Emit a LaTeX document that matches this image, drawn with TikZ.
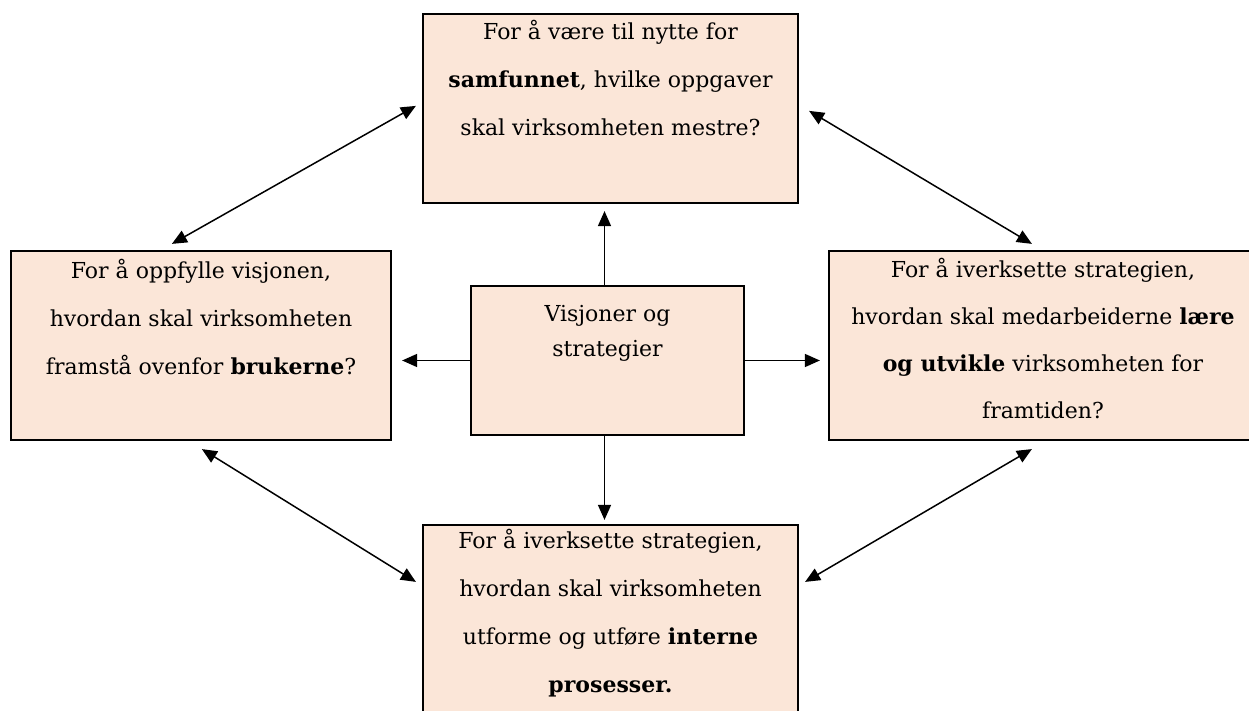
\documentclass[tikz,border=0pt]{standalone}
\usepackage{fontspec}
\setmainfont{DejaVu Serif}
\usetikzlibrary{arrows.meta,calc}
\definecolor{peach}{HTML}{FBE6D8}
\tikzset{
  card/.style={draw=black, line width=2.2pt, fill=peach, inner sep=0pt, text=black},
  link/.style={line width=1.5pt, -{Triangle[length=15pt,width=13pt]}},
  twoway/.style={line width=1.5pt, {Triangle[length=15pt,width=13pt]}-{Triangle[length=15pt,width=13pt]}},
}
% #1 width, #2 height, #3 depth of first baseline, #4 line spacing, #5 text
\newcommand{\cardtext}[5]{\parbox[c][#2][t]{#1}{\centering\fontsize{22}{#4}\selectfont\rule{0pt}{#3}#5}}
\begin{document}
\begin{tikzpicture}[x=1pt,y=1pt]
\clip (0,0) rectangle (1249,711);

% the four perspectives and the core in the middle
\node[card] (top) at (610.5,602.5)
  {\cardtext{375pt}{189pt}{26pt}{48pt}{For å være til nytte for\\\textbf{samfunnet}, hvilke oppgaver\\skal virksomheten mestre?}};
\node[card] (left) at (201,365.5)
  {\cardtext{380pt}{189pt}{28pt}{48pt}{For å oppfylle visjonen,\\hvordan skal virksomheten\\framstå ovenfor \textbf{brukerne}?}};
\node[card] (right) at (1043,365.5)
  {\cardtext{428pt}{189pt}{27pt}{47pt}{For å iverksette strategien,\\hvordan skal medarbeiderne \textbf{lære}\\\textbf{og utvikle} virksomheten for\\framtiden?}};
\node[card] (bottom) at (610.5,91.5)
  {\cardtext{375pt}{189pt}{24pt}{48pt}{For å iverksette strategien,\\hvordan skal virksomheten\\utforme og utføre \textbf{interne}\\\textbf{prosesser.}}};
\node[card] (core) at (607.5,350.5)
  {\cardtext{273pt}{149pt}{36pt}{35pt}{Visjoner og\\strategier}};

% from the core outwards
\draw[link, shorten >=7pt] ([xshift=-3pt]core.north) -- ([xshift=-3pt]core.north |- top.south);
\draw[link, shorten >=4pt] ([xshift=-3pt]core.south) -- ([xshift=-3pt]core.south |- bottom.north);
\draw[link, shorten >=10pt] (core.west) -- (left.east |- core.west);
\draw[link, shorten >=8pt] (core.east) -- (right.west |- core.east);

% links between neighbouring perspectives
\draw[twoway] ($(left.north west)+(162,6)$) -- ($(top.north west)+(-6,-93)$);
\draw[twoway] ($(top.north east)+(10,-98)$) -- ($(right.north west)+(204,6)$);
\draw[twoway] ($(left.south west)+(192,-8)$) -- ($(bottom.north west)+(-6,-58)$);
\draw[twoway] ($(right.south west)+(204,-8)$) -- ($(bottom.north east)+(6,-58)$);
\end{tikzpicture}
\end{document}
